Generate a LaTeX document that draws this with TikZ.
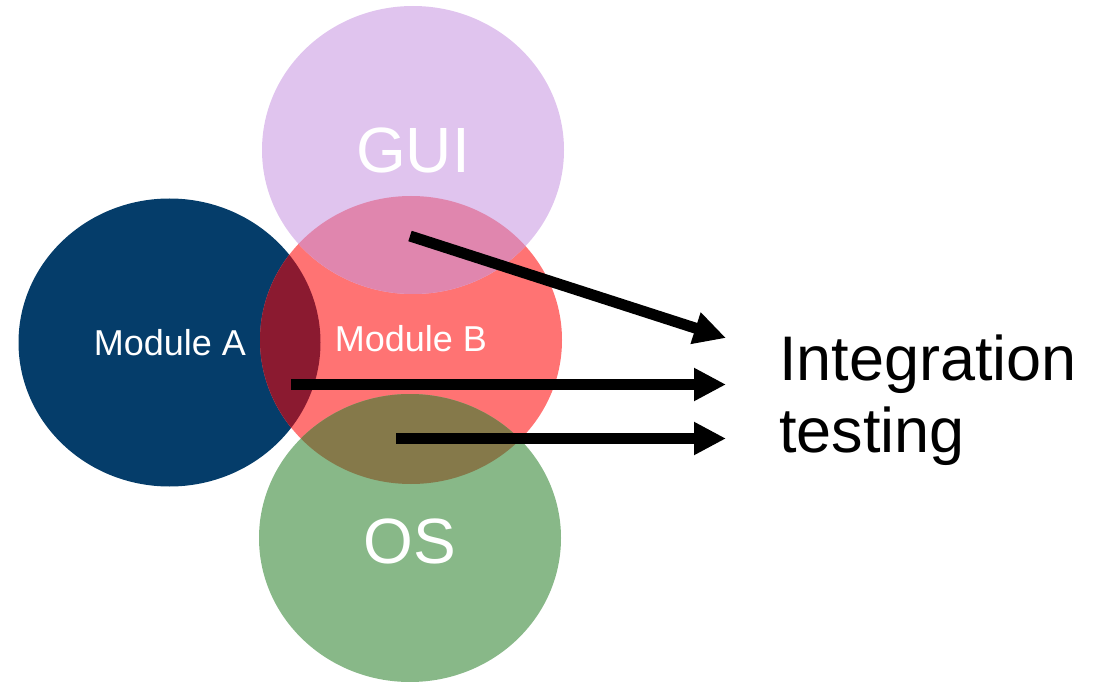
\documentclass[tikz,border=0pt]{standalone}
\usepackage{fontspec}
\setmainfont{Liberation Sans}
\usetikzlibrary{arrows.meta,shapes.geometric}

\definecolor{guiC}{HTML}{E0C4EE}
\definecolor{modAC}{HTML}{053D6A}
\definecolor{modBC}{HTML}{FF7373}
\definecolor{osC}{HTML}{88B888}
\definecolor{guiBC}{HTML}{E086AE}
\definecolor{abC}{HTML}{8B1A30}
\definecolor{bosC}{HTML}{85794A}

\tikzset{
  blob/.style={ellipse, inner sep=0pt, outer sep=0pt, draw=none,
    minimum width=302pt, minimum height=288pt},
  biglabel/.style={text=white, anchor=base, inner sep=0pt,
    font=\fontsize{64}{72}\selectfont},
  smalllabel/.style={text=white, anchor=base, inner sep=0pt,
    font=\fontsize{36}{42}\selectfont},
  bigarrow/.style={line width=11pt, -{Triangle[length=32pt,width=31pt]}},
}

\begin{document}
\begin{tikzpicture}[x=1pt, y=-1pt]
\useasboundingbox (0,0) rectangle (1101,682);

% the four areas
\node[blob, fill=modAC] (modA) at (169.5,342.5) {};
\node[blob, fill=modBC] (modB) at (411,340) {};
\node[blob, fill=guiC]  (gui)  at (413,150) {};
\node[blob, fill=osC]   (os)   at (410,538) {};

% overlaps
\begin{scope}
  \clip (modB.center) ellipse [x radius=151pt, y radius=144pt];
  \fill[guiBC] (gui.center) ellipse [x radius=151pt, y radius=144pt];
\end{scope}
\begin{scope}
  \clip (modB.center) ellipse [x radius=151pt, y radius=144pt];
  \fill[abC] (modA.center) ellipse [x radius=151pt, y radius=144pt];
\end{scope}
\begin{scope}
  \clip (modB.center) ellipse [x radius=151pt, y radius=144pt];
  \fill[bosC] (os.center) ellipse [x radius=151pt, y radius=144pt];
\end{scope}

% labels
\node[biglabel]   (guiL)  at (413,172) {GUI};
\node[biglabel]   (osL)   at (410,563) {OS};
\node[smalllabel] (modAL) at (170,355) {Module A};
\node[smalllabel] (modBL) at (411,351) {Module B};
\node[anchor=base west, inner sep=0pt, align=left,
      font=\fontsize{63}{72}\selectfont] (integ) at (779,452)
  {Integration\\testing};

% arrows
\coordinate (s1) at (410,236);
\coordinate (t1) at (726,338);
\coordinate (s2) at (291,384.5);
\coordinate (t2) at (726,384.5);
\coordinate (s3) at (396,438.5);
\coordinate (t3) at (726,438.5);
\draw[bigarrow] (s1) -- (t1);
\draw[bigarrow] (s2) -- (t2);
\draw[bigarrow] (s3) -- (t3);
\end{tikzpicture}
\end{document}
